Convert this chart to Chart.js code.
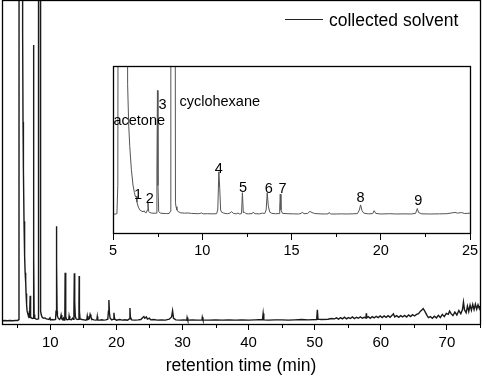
<!DOCTYPE html>
<html><head><meta charset="utf-8">
<script src="https://cdn.jsdelivr.net/npm/chart.js@4.4.1/dist/chart.umd.min.js"></script>
<style>
html,body{margin:0;padding:0;background:#fff;}
#wrap{position:relative;width:484px;height:377px;overflow:hidden;background:#fff;}
#main{position:absolute;left:0;top:0;}
#inset{position:absolute;left:100px;top:55px;}
</style></head><body>
<div id="wrap"><canvas id="main" width="484" height="377"></canvas><canvas id="inset" width="382" height="210"></canvas></div>
<script>
const seriesName = 'collected solvent';
const xTitle = 'retention time (min)';
const times = [
 2.7,3.1,3.5,3.9,4.3,4.7,5.1,5.22,5.27,5.31,5.78,5.82,5.88,5.94,6.03,6.12,6.2,6.26,6.3,6.34,
 6.42,6.5,6.6,6.68,6.75,6.8,6.87,6.92,6.96,7.0,7.05,7.15,7.3,7.42,7.46,7.49,7.52,7.56,7.65,7.8,
 8.0,8.15,8.21,8.24,8.46,8.5,8.53,8.58,8.65,8.8,9.0,9.2,9.4,9.6,9.8,9.96,10.05,10.3,10.6,10.8,
 10.87,10.93,10.98,11.03,11.08,11.2,11.4,11.55,11.64,11.75,11.9,12.0,12.1,12.2,12.25,12.3,12.38,12.45,12.6,12.8,
 12.85,12.95,13.2,13.37,13.5,13.58,13.64,13.7,13.78,13.9,14.1,14.3,14.34,14.37,14.41,14.5,14.8,15.1,15.4,15.55,
 15.6,15.7,15.9,16.03,16.15,16.3,16.6,16.9,17.05,17.11,17.18,17.5,17.8,18.1,18.4,18.7,18.8,18.87,18.95,19.05,
 19.3,19.55,19.63,19.72,20.0,20.5,20.9,21.3,21.7,21.95,22.05,22.12,22.3,22.8,23.3,23.7,24.0,24.16,24.3,24.53,
 24.7,25.0,25.2,25.6,26.2,26.8,27.4,28.0,28.35,28.5,28.65,29.0,29.6,30.2,30.65,30.7,30.8,31.5,32.2,32.95,
 33.0,33.1,34,35,36,37,38,39,40,41,42.1,42.2,42.3,43,44,45,46,47,48,49,
 50.3,50.4,50.5,51,52,52.5,53.0,53.3,53.6,53.9,54.2,54.5,54.8,55.1,55.4,55.7,56.0,56.3,56.6,56.9,
 57.2,57.5,57.75,57.8,57.85,58.1,58.4,58.7,59.0,59.3,59.6,59.9,60.2,60.5,60.8,61.1,61.4,61.7,61.9,62.1,
 62.4,62.7,63.0,63.3,63.6,63.9,64.2,64.5,64.8,65.1,65.4,65.7,66.0,66.2,66.4,66.6,66.8,67.0,67.2,67.5,
 67.8,68.1,68.4,68.7,69.0,69.3,69.6,69.9,70.2,70.4,70.6,70.9,71.2,71.5,71.8,72.1,72.35,72.5,72.65,72.9,
 73.1,73.3,73.5,73.7,73.9,74.1,74.3,74.5,74.7,74.9,75.0
];
const signal = [
 0,0.1,0,0.1,0,0.1,0.1,0.4,20,400,400,90,62,47,31,20.3,15,12,12.5,8.5,
 5,3,2.2,1.8,2.4,1.2,1.1,3,7.8,2,1.2,0.9,0.7,0.8,30,86,20,2,0.8,0.6,
 0.5,0.6,2,400,400,8,5.3,3,1.8,1.0,0.8,0.9,0.6,0.5,0.4,0.9,0.3,0.4,0.3,0.4,
 3,29.5,18,3,1.5,0.8,0.4,0.8,1.8,0.6,0.3,0.8,0.2,0.5,15,1.2,1.4,0.4,0.3,0.5,
 1.5,0.4,0.3,0.8,0.5,3,14.8,6,1.5,0.6,0.4,0.5,5,14,3,0.6,0.4,0.3,0.2,0.6,
 1.5,0.4,0.6,2,1.2,0.5,0.3,0.2,0.3,1.3,0.2,0.2,0.3,0.2,0.3,0.5,3,6.5,2.5,0.8,
 0.3,0.5,2.5,0.6,0.2,0.4,0.2,0.3,0.2,0.6,4,1.2,0.3,0.2,0.3,0.4,1.0,1.3,0.8,1.2,
 0.5,0.8,0.3,0.4,0.2,0.3,0.2,0.5,1.2,3.1,0.8,0.3,0.2,0.3,0.2,1.0,0.2,0.3,0.2,0.2,
 1.1,0.3,0.2,0.3,0.2,0.3,0.2,0.3,0.2,0.3,0.4,2.3,0.3,0.2,0.3,0.3,0.2,0.3,0.4,0.3,
 0.4,3.4,0.5,0.4,0.5,0.7,0.6,0.9,0.5,1.0,0.6,1.1,0.6,1.0,0.7,1.2,0.7,1.1,0.8,1.2,
 0.8,1.1,0.9,2.3,0.9,1.3,0.8,1.3,0.9,1.4,1.0,1.5,1.0,1.5,1.1,1.6,1.1,1.7,2.2,1.2,
 1.6,1.1,1.6,1.2,1.7,1.2,1.8,1.3,1.9,1.5,2.0,2.2,3.0,3.4,3.8,3.2,2.4,1.6,1.0,1.3,
 0.8,1.4,0.9,1.7,1.0,2.0,1.3,2.3,2.0,3.0,2.3,1.6,2.7,1.8,3.2,2.2,3.5,5.8,3.4,2.5,
 4.6,2.9,4.9,3.3,5.1,3.5,5.2,3.6,5.0,3.8,4.6
];
const mainTickLabels = [10,20,30,40,50,60,70];
const insetTickLabels = [5,10,15,20,25];
const peakNames  = ['acetone','1','2','3','cyclohexane','4','5','6','7','8','9'];
const peakLabelX = [6.47, 6.4, 7.06, 7.77, 10.98, 10.93, 12.29, 13.73, 14.5, 18.87, 22.1];
const peakLabelY = [62, 10.4, 8, 73.3, 74.9, 28.5, 15.7, 15, 15, 8.75, 6.5];

const FONT = "'Liberation Sans', Arial, Helvetica, sans-serif";
Chart.defaults.font.family = FONT;
Chart.defaults.color = '#000';

const points = times.map((t, i) => ({x: t, y: signal[i]}));

function framePlugin(labeled, minorLen, lw, fillBg) {
  return {
    id: 'frameTicks',
    beforeDraw(chart) {
      if (!fillBg) return;
      const {ctx, chartArea: a} = chart;
      ctx.save(); ctx.fillStyle = '#fff';
      ctx.fillRect(a.left, a.top, a.right - a.left, a.bottom - a.top);
      ctx.restore();
    },
    afterDraw(chart) {
      const {ctx, chartArea: a} = chart;
      const sx = chart.scales.x;
      const L = Math.round(a.left), T = Math.round(a.top), R = Math.round(a.right), B = Math.round(a.bottom);
      ctx.save();
      ctx.strokeStyle = '#000';
      ctx.lineWidth = lw;
      ctx.strokeRect(L + 0.5, T + 0.5, R - L, B - T);
      ctx.lineWidth = 1;
      sx.ticks.forEach(t => {
        if (labeled.includes(t.value)) return;
        const px = Math.round(sx.getPixelForValue(t.value)) + 0.5;
        ctx.beginPath(); ctx.moveTo(px, B); ctx.lineTo(px, B + minorLen); ctx.stroke();
      });
      ctx.restore();
    }
  };
}

const legendPlugin = {
  id: 'insideLegend',
  afterDraw(chart) {
    const ctx = chart.ctx;
    const ds = chart.data.datasets[0];
    ctx.save();
    ctx.strokeStyle = '#222'; ctx.lineWidth = 1;
    ctx.beginPath(); ctx.moveTo(285, 19.5); ctx.lineTo(323, 19.5); ctx.stroke();
    ctx.fillStyle = '#000';
    ctx.font = '17.5px ' + FONT;
    ctx.textBaseline = 'alphabetic'; ctx.textAlign = 'left';
    ctx.fillText(ds.label, 329, 25.5);
    ctx.restore();
  }
};

const peakLabelPlugin = {
  id: 'peakLabels',
  afterDatasetsDraw(chart) {
    const ctx = chart.ctx, sx = chart.scales.x, sy = chart.scales.y;
    ctx.save();
    ctx.fillStyle = '#000';
    ctx.font = '14.5px ' + FONT;
    ctx.textAlign = 'center'; ctx.textBaseline = 'alphabetic';
    peakNames.forEach((n, i) => ctx.fillText(n, sx.getPixelForValue(peakLabelX[i]), sy.getPixelForValue(peakLabelY[i])));
    ctx.restore();
  }
};

new Chart(document.getElementById('main'), {
  type: 'line',
  data: { datasets: [{ label: seriesName, data: points, borderColor: '#1a1a1a', borderWidth: 1.4, pointRadius: 0, tension: 0, fill: false }] },
  options: {
    responsive: false, animation: false, devicePixelRatio: 1,
    layout: { padding: { left: 2, right: 1, top: 0, bottom: 0 } },
    plugins: { legend: { display: false }, tooltip: { enabled: false } },
    scales: {
      x: {
        type: 'linear', min: 2.7, max: 75,
        ticks: { stepSize: 5, includeBounds: false, autoSkip: false, maxRotation: 0, padding: 4,
                 font: { size: 15 }, color: '#000',
                 callback: v => mainTickLabels.includes(v) ? String(v) : '' },
        grid: { drawOnChartArea: false, drawTicks: true, tickLength: 6,
                tickColor: c => (c.tick && mainTickLabels.includes(c.tick.value)) ? '#000' : 'rgba(0,0,0,0)' },
        border: { display: false },
        title: { display: true, text: xTitle, color: '#000', font: { size: 17.5 }, padding: { top: 0, bottom: 0 } }
      },
      y: { display: false, min: -1, max: 100 }
    }
  },
  plugins: [framePlugin(mainTickLabels, 4, 1.3, false), legendPlugin]
});

new Chart(document.getElementById('inset'), {
  type: 'line',
  data: { datasets: [{ label: seriesName, data: points, borderColor: '#555', borderWidth: 1, pointRadius: 0, tension: 0, fill: false }] },
  options: {
    responsive: false, animation: false, devicePixelRatio: 1,
    layout: { padding: { left: 13, right: 12, top: 11, bottom: 3.6 } },
    plugins: { legend: { display: false }, tooltip: { enabled: false } },
    scales: {
      x: {
        type: 'linear', min: 5, max: 25,
        ticks: { stepSize: 2.5, includeBounds: false, autoSkip: false, maxRotation: 0, padding: 2,
                 font: { size: 14.5 }, color: '#000',
                 callback: v => insetTickLabels.includes(v) ? String(v) : '' },
        grid: { drawOnChartArea: false, drawTicks: true, tickLength: 7,
                tickColor: c => (c.tick && insetTickLabels.includes(c.tick.value)) ? '#000' : 'rgba(0,0,0,0)' },
        border: { display: false }
      },
      y: { display: false, min: -13, max: 103 }
    }
  },
  plugins: [framePlugin(insetTickLabels, 4, 1.3, true), peakLabelPlugin]
});
</script>
</body></html>
